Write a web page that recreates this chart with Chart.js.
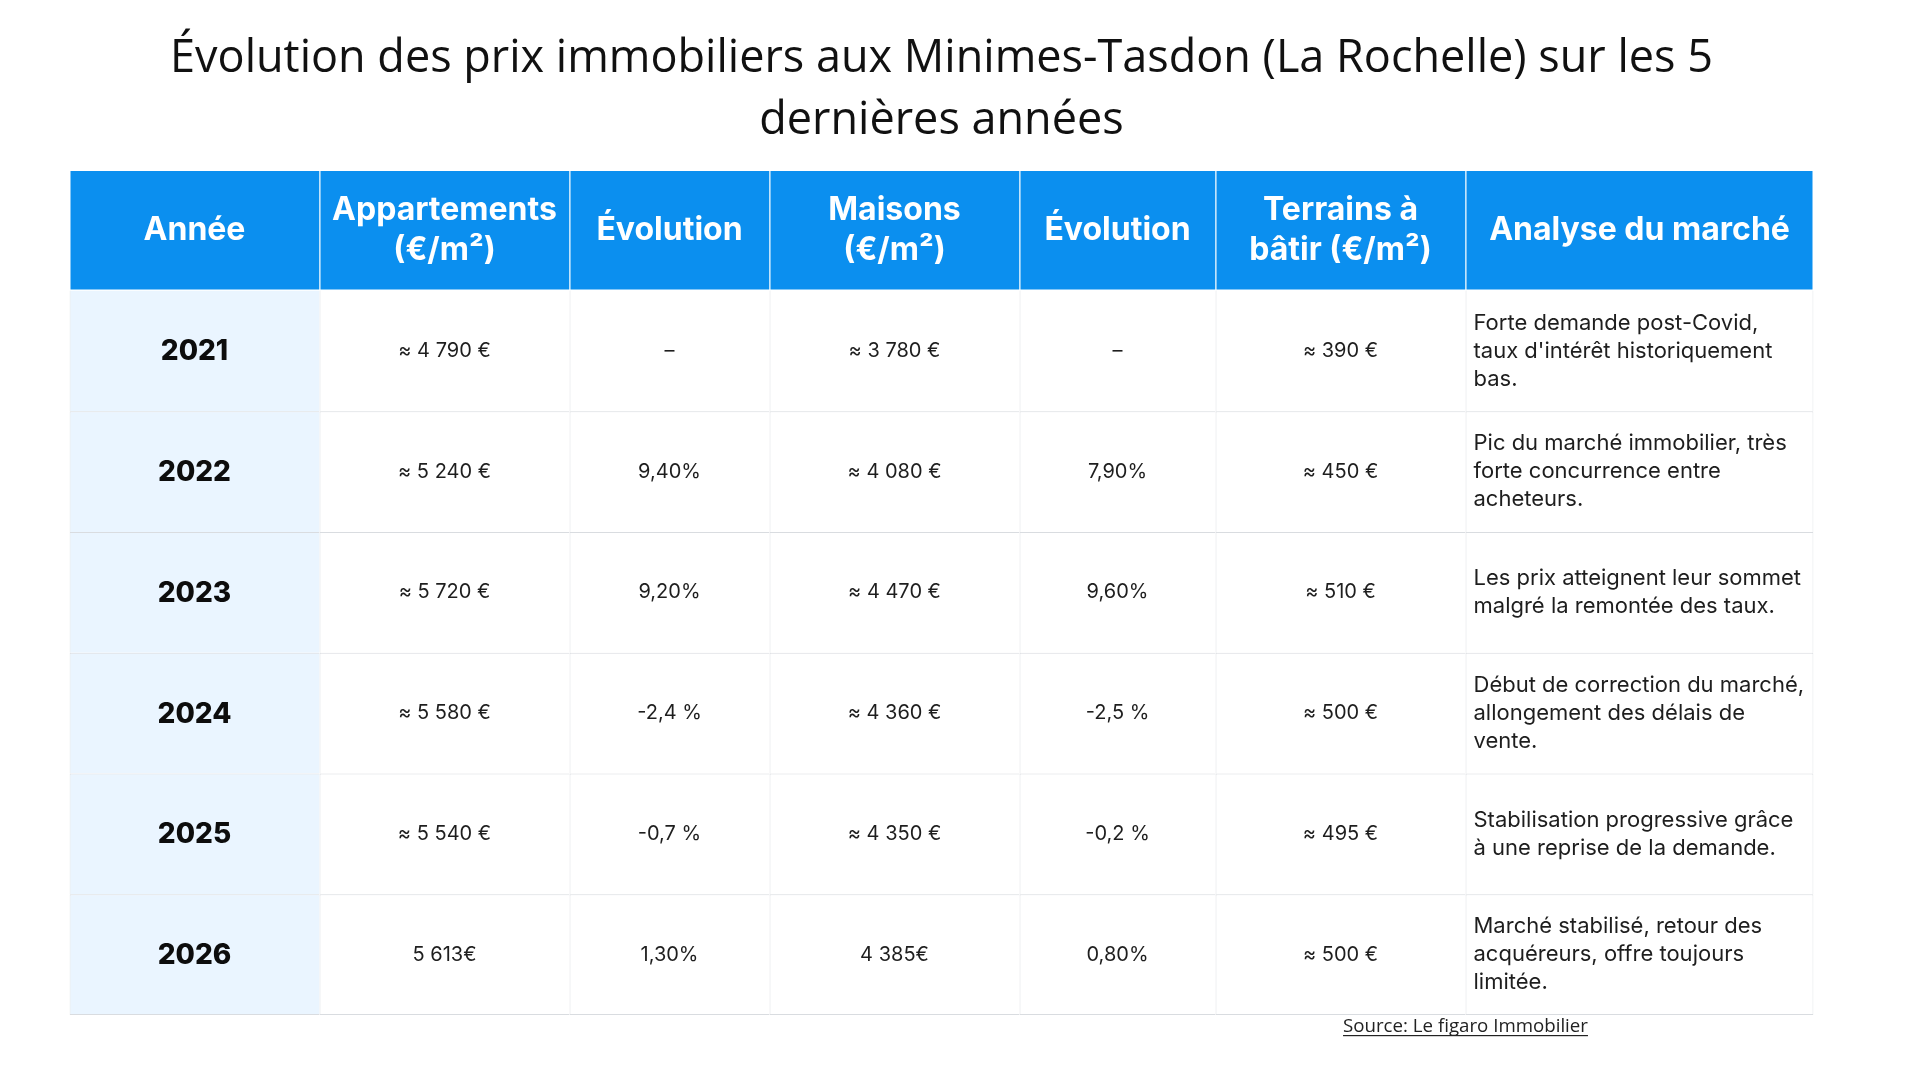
<!DOCTYPE html>
<html lang="fr">
<head>
<meta charset="utf-8">
<title>Évolution des prix immobiliers aux Minimes-Tasdon</title>
<script src="https://cdn.jsdelivr.net/npm/chart.js@4.4.1/dist/chart.umd.min.js"></script>
<style>
    html, body { margin: 0; padding: 0; background: #fff; }
    #wrap { width: 1920px; height: 1080px; position: relative; }
</style>
</head>
<body>
<div id="wrap"><canvas id="table"></canvas></div>
<script>
// Table data
const titleLines = ['Évolution des prix immobiliers aux Minimes-Tasdon (La Rochelle) sur les 5', 'dernières années'];
const headers = [
    ['Année'],
    ['Appartements', '(€/m²)'],
    ['Évolution'],
    ['Maisons', '(€/m²)'],
    ['Évolution'],
    ['Terrains à', 'bâtir (€/m²)'],
    ['Analyse du marché']
];
const years = ['2021', '2022', '2023', '2024', '2025', '2026'];
const apartPrices = ['≈ 4 790 €', '≈ 5 240 €', '≈ 5 720 €', '≈ 5 580 €', '≈ 5 540 €', '5 613€'];
const apartEvolution = ['–', '9,40%', '9,20%', '-2,4 %', '-0,7 %', '1,30%'];
const housePrices = ['≈ 3 780 €', '≈ 4 080 €', '≈ 4 470 €', '≈ 4 360 €', '≈ 4 350 €', '4 385€'];
const houseEvolution = ['–', '7,90%', '9,60%', '-2,5 %', '-0,2 %', '0,80%'];
const landPrices = ['≈ 390 €', '≈ 450 €', '≈ 510 €', '≈ 500 €', '≈ 495 €', '≈ 500 €'];
const analysis = [
    ['Forte demande post-Covid,', "taux d'intérêt historiquement", 'bas.'],
    ['Pic du marché immobilier, très', 'forte concurrence entre', 'acheteurs.'],
    ['Les prix atteignent leur sommet', 'malgré la remontée des taux.'],
    ['Début de correction du marché,', 'allongement des délais de', 'vente.'],
    ['Stabilisation progressive grâce', 'à une reprise de la demande.'],
    ['Marché stabilisé, retour des', 'acquéreurs, offre toujours', 'limitée.']
];
const sourceText = 'Source: Le figaro Immobilier';

// Layout (relative column widths, styles)
const colWidths = [250, 250, 200, 250, 196, 250, 348];
const HEADER_BLUE = '#0b8fef';
const FIRST_COL_BG = '#eaf5ff';
const GRID = '#d9dce0';
const HEADER_LINE = 'rgba(255,255,255,0.55)';
const TABLE_FONT = 'Inter, "Noto Sans", sans-serif';

const columns = [years, apartPrices, apartEvolution, housePrices, houseEvolution, landPrices, analysis];
const rowLabels = ['header', ...years];
const totalWidth = colWidths.reduce((a, b) => a + b, 0);

const datasets = colWidths.map((w, c) => ({
    label: headers[c].join(' '),
    data: rowLabels.map(() => w),
    backgroundColor: ctx => ctx.dataIndex === 0 ? HEADER_BLUE : (c === 0 ? FIRST_COL_BG : '#ffffff'),
    borderColor: ctx => ctx.dataIndex === 0 ? HEADER_LINE : GRID,
    borderWidth: ctx => ({
        top: ctx.dataIndex === 1 ? 0 : 1,
        left: 1,
        right: c === colWidths.length - 1 ? 1 : 0,
        bottom: ctx.dataIndex === rowLabels.length - 1 || ctx.dataIndex === 0 ? 1 : 0
    }),
    borderSkipped: false,
    inflateAmount: 0,
    barPercentage: 1,
    categoryPercentage: 1
}));

function drawLines(ctx, lines, x, cy, lineHeight) {
    const start = cy - (lines.length - 1) * lineHeight / 2;
    lines.forEach((line, i) => ctx.fillText(line, x, start + i * lineHeight));
}

const cellText = {
    id: 'cellText',
    afterDatasetsDraw(chart) {
        const ctx = chart.ctx;
        ctx.save();
        ctx.textBaseline = 'middle';
        chart.data.datasets.forEach((ds, c) => {
            const meta = chart.getDatasetMeta(c);
            meta.data.forEach((bar, r) => {
                const p = bar.getProps(['x', 'y', 'base'], true);
                const left = Math.min(p.x, p.base);
                const right = Math.max(p.x, p.base);
                const cx = (left + right) / 2;
                if (r === 0) {
                    ctx.fillStyle = '#ffffff';
                    ctx.textAlign = 'center';
                    ctx.font = '700 32px ' + TABLE_FONT;
                    drawLines(ctx, headers[c], cx, p.y, 40);
                    return;
                }
                const value = columns[c][r - 1];
                if (c === 0) {
                    ctx.fillStyle = '#0d0d0d';
                    ctx.textAlign = 'center';
                    ctx.font = '800 28px ' + TABLE_FONT;
                    ctx.fillText(value, cx, p.y + 1);
                } else if (c === columns.length - 1) {
                    ctx.fillStyle = '#1e1e1e';
                    ctx.textAlign = 'left';
                    ctx.font = '400 22px ' + TABLE_FONT;
                    drawLines(ctx, value, left + 8, p.y, 28);
                } else {
                    ctx.fillStyle = '#1e1e1e';
                    ctx.textAlign = 'center';
                    ctx.font = '400 20px ' + TABLE_FONT;
                    ctx.fillText(value, cx, p.y);
                }
            });
        });

        // source line under the table
        const lastMeta = chart.getDatasetMeta(columns.length - 1);
        const anchor = lastMeta.data[0].getProps(['base'], true).base;
        const y = chart.chartArea.bottom + 17;
        ctx.font = '400 18.7px "Open Sans", sans-serif';
        ctx.fillStyle = '#222222';
        ctx.textAlign = 'center';
        ctx.textBaseline = 'alphabetic';
        ctx.fillText(sourceText, anchor, y);
        const w = ctx.measureText(sourceText).width;
        ctx.fillRect(anchor - w / 2, y + 3, w, 1.2);
        ctx.restore();
    }
};

new Chart(document.getElementById('table'), {
    type: 'bar',
    data: { labels: rowLabels, datasets },
    options: {
        indexAxis: 'y',
        responsive: true,
        maintainAspectRatio: false,
        animation: false,
        events: [],
        layout: { padding: { left: 69.5, right: 106.5, top: 0, bottom: 65 } },
        scales: {
            x: { stacked: true, min: 0, max: totalWidth, display: false },
            y: { stacked: true, display: false }
        },
        plugins: {
            legend: { display: false },
            tooltip: { enabled: false },
            title: {
                display: true,
                text: titleLines,
                color: '#111111',
                font: { family: '"Open Sans", sans-serif', size: 45, weight: 'normal', lineHeight: 1.391 },
                padding: { top: 27.7, bottom: 17 }
            }
        }
    },
    plugins: [cellText]
});
</script>
</body>
</html>
